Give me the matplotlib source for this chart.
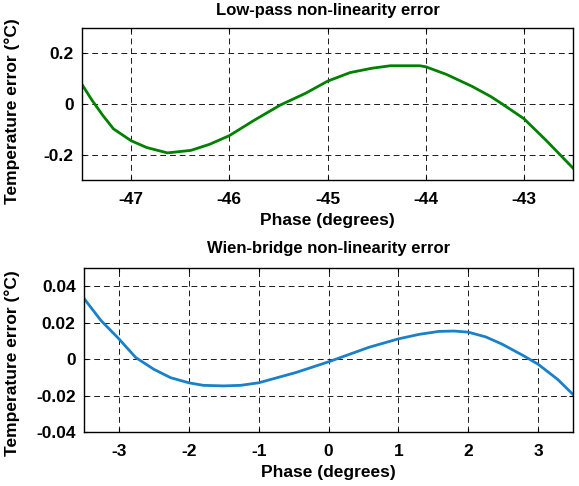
import matplotlib
matplotlib.use("Agg")
import matplotlib.pyplot as plt

plt.rcParams["font.family"] = ["Liberation Sans", "DejaVu Sans"]
plt.rcParams["font.weight"] = "bold"

# Low-pass non-linearity error
lp_phase = [-47.5, -47.4, -47.29, -47.18, -47.0, -46.84, -46.63, -46.39, -46.2,
            -46.0, -45.75, -45.48, -45.22, -45.0, -44.77, -44.55, -44.36,
            -44.06, -44.0, -43.79, -43.53, -43.34, -43.22, -43.0, -42.77, -42.5]
lp_err = [0.077, 0.016, -0.044, -0.098, -0.145, -0.172, -0.193, -0.183, -0.159,
          -0.125, -0.065, -0.004, 0.043, 0.09, 0.124, 0.141, 0.151,
          0.151, 0.147, 0.117, 0.07, 0.03, 0.0, -0.058, -0.145, -0.253]

# Wien-bridge non-linearity error
wb_phase = [-3.5, -3.26, -3.0, -2.76, -2.5, -2.26, -2.0, -1.79, -1.5, -1.26,
            -1.0, -0.47, 0.0, 0.58, 1.0, 1.3, 1.58, 1.8, 2.0, 2.25, 2.48, 2.79,
            3.0, 3.28, 3.5]
wb_err = [0.0333, 0.0213, 0.0111, 0.0009, -0.0056, -0.0102, -0.013, -0.0144,
          -0.0147, -0.0144, -0.013, -0.0074, -0.0015, 0.0065, 0.0111, 0.0136,
          0.0152, 0.0154, 0.0148, 0.0122, 0.0083, 0.0019, -0.0028, -0.0111,
          -0.0194]

W, H = 579, 486
fig = plt.figure(figsize=(W / 100, H / 100), dpi=100)


def style_axes(ax, title, title_pad):
    ax.grid(True, color="0.1", ls=(0, (6, 4)), lw=0.7)
    ax.tick_params(direction="in", length=3, width=0.8, labelsize=12.5,
                   top=True, right=True, pad=6)
    ax.tick_params(axis="x", pad=9)
    for s in ax.spines.values():
        s.set_linewidth(1.0)
    ax.set_title(title, fontsize=12, fontweight="bold", pad=title_pad)
    ax.set_xlabel("Phase (degrees)", fontsize=12.5, fontweight="bold", labelpad=4)
    ax.set_ylabel("Temperature error (°C)", fontsize=12.5, fontweight="bold")


ax1 = fig.add_axes([82 / W, 1 - 180 / H, (573 - 82) / W, (180 - 28) / H])
ax1.plot(lp_phase, lp_err, color="#008000", lw=2.0)
ax1.set_xlim(-47.5, -42.5)
ax1.set_ylim(-0.3, 0.3)
ax1.set_xticks([-47, -46, -45, -44, -43])
ax1.set_xticklabels(["-47", "-46", "-45", "-44", "-43"])
ax1.set_yticks([-0.2, 0, 0.2])
ax1.set_yticklabels(["-0.2", "0", "0.2"])
style_axes(ax1, "Low-pass non-linearity error", 9)

ax2 = fig.add_axes([84 / W, 1 - 432 / H, (573 - 84) / W, (432 - 268) / H])
ax2.plot(wb_phase, wb_err, color="#1a80c8", lw=2.0)
ax2.set_xlim(-3.5, 3.5)
ax2.set_ylim(-0.04, 0.05)
ax2.set_xticks([-3, -2, -1, 0, 1, 2, 3])
ax2.set_xticklabels(["-3", "-2", "-1", "0", "1", "2", "3"])
ax2.set_yticks([-0.04, -0.02, 0, 0.02, 0.04])
ax2.set_yticklabels(["-0.04", "-0.02", "0", "0.02", "0.04"])
style_axes(ax2, "Wien-bridge non-linearity error", 11)

# y labels sit near the left edge of the figure (x ~ 20 px)
ax1.yaxis.set_label_coords((20 - 82) / 491, 0.45)
ax2.yaxis.set_label_coords((20 - 84) / 489, 0.42)

fig.savefig("out.png", dpi=100)
